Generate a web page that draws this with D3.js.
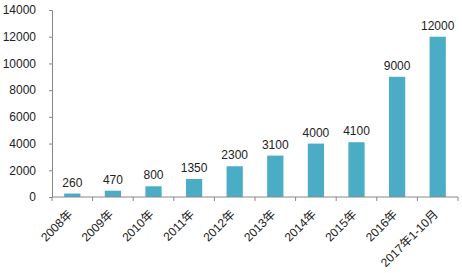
<!DOCTYPE html>
<html>
<head>
<meta charset="utf-8">
<script src="https://cdn.jsdelivr.net/npm/d3@7"></script>
<style>
  body { margin: 0; background: #fff; }
  svg text { font-family: "Liberation Sans", "Noto Sans CJK SC", sans-serif; fill: #222; }
</style>
</head>
<body>
<svg id="chart"></svg>
<script>
const categories = ['2008年', '2009年', '2010年', '2011年', '2012年', '2013年', '2014年', '2015年', '2016年', '2017年1-10月'];
const values = [260, 470, 800, 1350, 2300, 3100, 4000, 4100, 9000, 12000];
const yTicks = [0, 2000, 4000, 6000, 8000, 10000, 12000, 14000];

const width = 462, height = 273;
const margin = { top: 10, right: 4, bottom: 76, left: 52 };

const svg = d3.select('#chart')
  .attr('width', width)
  .attr('height', height);

const x = d3.scaleBand()
  .domain(categories)
  .range([margin.left, width - margin.right])
  .paddingInner(0.6)
  .paddingOuter(0.3);

const y = d3.scaleLinear()
  .domain([0, 14000])
  .range([height - margin.bottom, margin.top]);

// y axis
const yAxis = svg.append('g')
  .attr('transform', `translate(${margin.left},0)`)
  .call(d3.axisLeft(y).tickValues(yTicks).tickSize(3).tickPadding(13).tickFormat(d3.format('d')));
yAxis.select('.domain').attr('stroke', '#888');
yAxis.selectAll('.tick line').attr('stroke', '#888');
yAxis.selectAll('.tick text').style('font-size', '12px');

// bars
svg.selectAll('.bar')
  .data(values)
  .enter()
  .append('rect')
  .attr('class', 'bar')
  .attr('x', (d, i) => x(categories[i]))
  .attr('width', x.bandwidth())
  .attr('y', d => y(d))
  .attr('height', d => y(0) - y(d))
  .attr('fill', '#4bacc6');

// value labels
svg.selectAll('.label')
  .data(values)
  .enter()
  .append('text')
  .attr('class', 'label')
  .attr('x', (d, i) => x(categories[i]) + x.bandwidth() / 2)
  .attr('y', d => y(d) - 7)
  .attr('text-anchor', 'middle')
  .style('font-size', '12px')
  .text(d => d);

// x axis, ticks between categories
const x0 = margin.left;
const xAxis = svg.append('g')
  .attr('transform', `translate(0,${y(0)})`);
xAxis.append('line')
  .attr('x1', x0).attr('x2', width - margin.right)
  .attr('stroke', '#888');
xAxis.selectAll('.sep')
  .data(d3.range(categories.length + 1))
  .enter()
  .append('line')
  .attr('x1', i => x0 + i * (width - margin.right - x0) / categories.length)
  .attr('x2', i => x0 + i * (width - margin.right - x0) / categories.length)
  .attr('y1', 0).attr('y2', 4)
  .attr('stroke', '#888');
xAxis.selectAll('.cat')
  .data(categories)
  .enter()
  .append('text')
  .attr('text-anchor', 'end')
  .style('font-size', '12px')
  .attr('transform', d => `translate(${x(d) + x.bandwidth() / 2 + 1},${18}) rotate(-45)`)
  .text(d => d);
</script>
</body>
</html>
